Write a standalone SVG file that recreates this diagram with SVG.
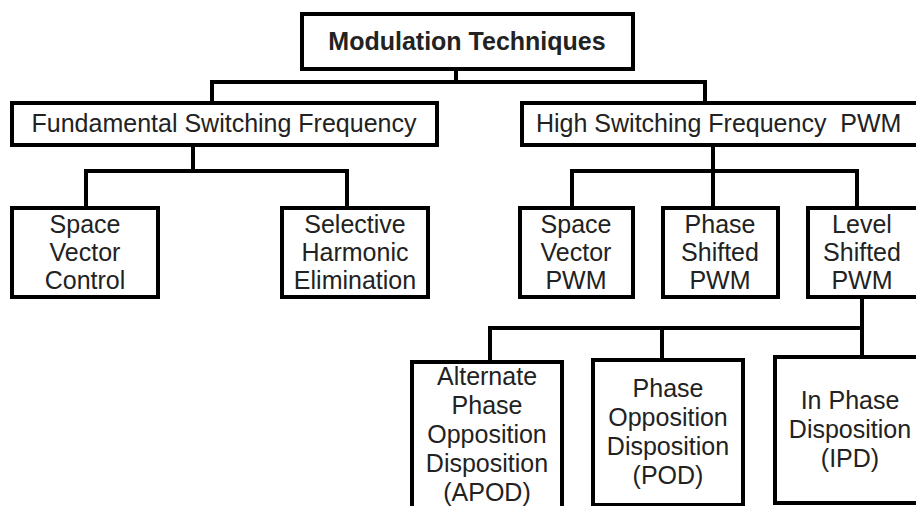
<svg xmlns="http://www.w3.org/2000/svg" width="916" height="506" viewBox="0 0 916 506">
<style>
  .box { fill: #ffffff; stroke: #000000; stroke-width: 4; }
  .t { font-family: "Liberation Sans", Arial, sans-serif; font-size: 25px; fill: #222222; text-anchor: middle; }
  .b { font-weight: bold; }
  .c { fill: none; stroke: #000000; stroke-width: 4; stroke-linejoin: miter; stroke-linecap: square; }
</style>
<rect width="916" height="506" fill="#ffffff"/>
<g id="connectors">
  <path class="c" d="M456 69 V82 M212 103 V82 H705 V103"/>
  <path class="c" d="M193 145 V171 M86 208 V171 H347 V208"/>
  <path class="c" d="M713 145 V208 M572 208 V171 H857 V208"/>
  <path class="c" d="M862 297 V357 M490 362 V328 H862 M662 328 V360"/>
</g>
<g id="n-root">
  <rect class="box" x="302" y="14" width="331" height="55"/>
  <text class="t b" x="467" y="50">Modulation Techniques</text>
</g>
<g id="n-fundamental">
  <rect class="box" x="12" y="103" width="425" height="42"/>
  <text class="t" x="224" y="132">Fundamental Switching Frequency</text>
</g>
<g id="n-high">
  <rect class="box" x="522" y="103" width="400" height="42"/>
  <text class="t" x="536" y="132" style="text-anchor:start" xml:space="preserve">High Switching Frequency  PWM</text>
</g>
<g id="n-svc">
  <rect class="box" x="12" y="208" width="146" height="89"/>
  <text class="t" x="85" y="233">Space</text>
  <text class="t" x="85" y="261">Vector</text>
  <text class="t" x="85" y="289">Control</text>
</g>
<g id="n-she">
  <rect class="box" x="282" y="208" width="146" height="89"/>
  <text class="t" x="355" y="233">Selective</text>
  <text class="t" x="355" y="261">Harmonic</text>
  <text class="t" x="355" y="289">Elimination</text>
</g>
<g id="n-svpwm">
  <rect class="box" x="520" y="208" width="113" height="89"/>
  <text class="t" x="576" y="233">Space</text>
  <text class="t" x="576" y="261">Vector</text>
  <text class="t" x="576" y="289">PWM</text>
</g>
<g id="n-pspwm">
  <rect class="box" x="663" y="208" width="115" height="89"/>
  <text class="t" x="720" y="233">Phase</text>
  <text class="t" x="720" y="261">Shifted</text>
  <text class="t" x="720" y="289">PWM</text>
</g>
<g id="n-lspwm">
  <rect class="box" x="808" y="208" width="112" height="89"/>
  <text class="t" x="862" y="233">Level</text>
  <text class="t" x="862" y="261">Shifted</text>
  <text class="t" x="862" y="289">PWM</text>
</g>
<g id="n-apod">
  <rect class="box" x="412" y="362" width="150" height="150"/>
  <text class="t" x="487" y="385">Alternate</text>
  <text class="t" x="487" y="414">Phase</text>
  <text class="t" x="487" y="443">Opposition</text>
  <text class="t" x="487" y="472">Disposition</text>
  <text class="t" x="487" y="501">(APOD)</text>
</g>
<g id="n-pod">
  <rect class="box" x="593" y="360" width="150" height="145"/>
  <text class="t" x="668" y="397">Phase</text>
  <text class="t" x="668" y="426">Opposition</text>
  <text class="t" x="668" y="455">Disposition</text>
  <text class="t" x="668" y="484">(POD)</text>
</g>
<g id="n-ipd">
  <rect class="box" x="775" y="357" width="150" height="146"/>
  <text class="t" x="850" y="409">In Phase</text>
  <text class="t" x="850" y="438">Disposition</text>
  <text class="t" x="850" y="467">(IPD)</text>
</g>
</svg>
